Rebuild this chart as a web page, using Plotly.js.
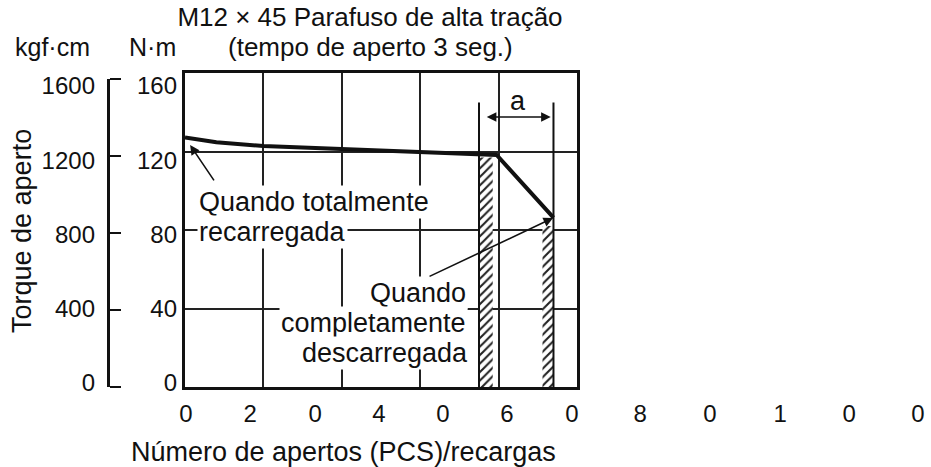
<!DOCTYPE html>
<html>
<head>
<meta charset="utf-8">
<script src="https://cdn.plot.ly/plotly-3.0.1.min.js"></script>
<style>
  html, body { margin: 0; padding: 0; background: #fff; }
  #chart { width: 931px; height: 467px; }
</style>
</head>
<body>
<div id="chart"></div>
<script>
// ── Dados ─────────────────────────────────────────────────
// Curva de torque (N·m) x número de apertos
const apertos  = [0, 8, 20, 40, 60, 68, 79.5, 94];
const torqueNm = [127.2, 124.7, 122.8, 121.1, 119.9, 119.1, 118.2, 86.3];

// Faixas hachuradas (início / fim da janela "a")
const faixaCentro  = [76.75, 92.6];
const faixaLargura = [3.5, 2.8];
const faixaTopo    = [117, 82];

// Linhas verticais que delimitam "a"
const limiteX    = [75, 94];
const limiteTopo = 145;

// Ticks
const ticksNm  = [0, 40, 80, 120, 160];
const ticksKgf = [0, 400, 800, 1200, 1600];
const ticksBaixo    = ['0', '2', '0', '4', '0', '6', '0', '8', '0', '1', '0', '0'];
const ticksBaixoPos = [0.25, 16.6, 33.2, 49.5, 65.8, 82.1, 98.7, 116.1, 133.9, 151.8, 169.4, 187];

// ── Geometria da página ───────────────────────────────────
const W = 931, H = 467;
const M = { l: 10, r: 6, t: 73, b: 80 };
const plotW = W - M.l - M.r;
const plotH = H - M.t - M.b;
const px = (p) => (p - M.l) / plotW;         // pixel -> fração do papel (x)
const py = (p) => (H - M.b - p) / plotH;     // pixel -> fração do papel (y)

const INK  = '#111';
const FONT = 'Liberation Sans, Arial, Helvetica, sans-serif';
const txt  = (size) => ({ family: FONT, size, color: INK });

// ── Traces ────────────────────────────────────────────────
const traceFaixas = {
  type: 'bar',
  x: faixaCentro, y: faixaTopo, width: faixaLargura,
  marker: {
    color: 'white',
    line: { width: 0 },
    pattern: { shape: '/', fgcolor: '#222', bgcolor: 'white', size: 6, solidity: 0.35, fillmode: 'replace' },
  },
  xaxis: 'x', yaxis: 'y', hoverinfo: 'skip', showlegend: false,
};

const limX = [], limY = [];
limiteX.forEach((v) => { limX.push(v, v, null); limY.push(0, limiteTopo, null); });
const traceLimites = {
  type: 'scatter', mode: 'lines', x: limX, y: limY,
  line: { color: INK, width: 2 },
  xaxis: 'x', yaxis: 'y', hoverinfo: 'skip', showlegend: false,
};

const traceTorque = {
  type: 'scatter', mode: 'lines', x: apertos, y: torqueNm,
  line: { color: INK, width: 4 },
  xaxis: 'x', yaxis: 'y', showlegend: false,
};

// traces invisíveis só para amarrar os eixos auxiliares ao x2
const ancora = (ya) => ({
  type: 'scatter', mode: 'markers', x: [0], y: [0], marker: { opacity: 0 },
  xaxis: 'x2', yaxis: ya, hoverinfo: 'skip', showlegend: false,
});

const data = [traceFaixas, traceLimites, traceTorque, ancora('y2'), ancora('y3'), ancora('y4'), ancora('y5')];

// ── Eixos ─────────────────────────────────────────────────
const boxAxis = {
  showgrid: true, gridcolor: '#222', gridwidth: 2,
  showline: true, mirror: true, linewidth: 3, linecolor: INK,
  showticklabels: false, ticks: '', zeroline: false, fixedrange: true,
};

const labelAxis = {
  showgrid: false, showline: false, zeroline: false, ticks: '',
  tickfont: txt(24), fixedrange: true,
};

const layout = {
  width: W, height: H,
  margin: M,
  paper_bgcolor: 'white',
  plot_bgcolor: 'rgba(0,0,0,0)',
  barmode: 'overlay',
  showlegend: false,
  title: {
    text: 'M12 × 45 Parafuso de alta tração',
    font: txt(26),
    x: 370 / W, xanchor: 'center',
    y: 1 - 17 / H, yanchor: 'middle',
  },
  xaxis: { ...boxAxis, domain: [px(185), px(577)], range: [0, 100], tick0: 0, dtick: 20, anchor: 'y' },
  yaxis: { ...boxAxis, domain: [0, 1], range: [0, 160], tick0: 0, dtick: 40, anchor: 'x' },

  xaxis2: {
    ...labelAxis, domain: [px(185), 1], range: [0, (W - M.r - 185) / 3.92],
    tickvals: ticksBaixoPos, ticktext: ticksBaixo, ticklabelstandoff: 10, anchor: 'y5',
  },
  yaxis5: { domain: [0, 1], range: [0, 1], visible: false, anchor: 'x2', fixedrange: true },

  yaxis2: {
    ...labelAxis, anchor: 'free', position: px(185), side: 'left',
    domain: [py(383), py(86)], range: [0, 160], tickvals: ticksNm, ticklabelstandoff: 8,
  },
  yaxis3: {
    ...labelAxis, anchor: 'free', position: px(108), side: 'left',
    domain: [py(383), py(86)], range: [0, 1600], tickvals: ticksKgf, ticklabelstandoff: 13,
  },
  // colchete da escala kgf·cm (linha com pés voltados para a direita)
  yaxis4: {
    anchor: 'free', position: px(108), side: 'right',
    domain: [0, py(79)], range: [0, 1600], tickvals: ticksKgf,
    showticklabels: false, showgrid: false, zeroline: false, fixedrange: true,
    showline: true, linewidth: 3, linecolor: INK,
    ticks: 'outside', ticklen: 11, tickwidth: 2.5, tickcolor: INK,
  },

  annotations: [],
};

// ── Textos ────────────────────────────────────────────────
const rotulo = (text, x, y, opts = {}) => ({
  text, x, y, showarrow: false, font: txt(27), ...opts,
});

layout.annotations.push(
  rotulo('(tempo de aperto 3 seg.)', px(370), py(47), { xref: 'paper', yref: 'paper', xanchor: 'center', yanchor: 'middle', font: txt(26) }),
  rotulo('kgf·cm', px(52), py(47), { xref: 'paper', yref: 'paper', xanchor: 'center', yanchor: 'middle', font: txt(25) }),
  rotulo('N·m', px(152), py(47), { xref: 'paper', yref: 'paper', xanchor: 'center', yanchor: 'middle', font: txt(25) }),
  rotulo('Torque de aperto', px(22), py(231), { xref: 'paper', yref: 'paper', xanchor: 'center', yanchor: 'middle', textangle: -90 }),
  rotulo('Número de apertos (PCS)/recargas', px(343), py(452), { xref: 'paper', yref: 'paper', xanchor: 'center', yanchor: 'middle' }),
);

// rótulos dentro do gráfico (fundo branco interrompe a grade)
const dentro = { xref: 'x', yref: 'y', bgcolor: 'white', borderpad: 1, yanchor: 'middle' };
layout.annotations.push(
  rotulo('Quando totalmente', 3.0, 94.3, { ...dentro, xanchor: 'left' }),
  rotulo('recarregada', 3.0, 79.0, { ...dentro, xanchor: 'left' }),
  rotulo('Quando', 72.2, 47.9, { ...dentro, xanchor: 'right' }),
  rotulo('completamente', 72.2, 32.6, { ...dentro, xanchor: 'right' }),
  rotulo('descarregada', 72.6, 17.3, { ...dentro, xanchor: 'right' }),
  rotulo('a', 85, 145.5, { xref: 'x', yref: 'y', xanchor: 'center', yanchor: 'middle' }),
);

// setas
const seta = (x, y, ax, ay, extra = {}) => ({
  text: '', x, y, ax, ay, xref: 'x', yref: 'y', axref: 'x', ayref: 'y',
  showarrow: true, arrowhead: 2, arrowsize: 1.2, arrowwidth: 1.6, arrowcolor: INK, ...extra,
});
layout.annotations.push(
  seta(1.3, 123.3, 7.65, 104.5),
  seta(93.9, 86.1, 62, 56),
  seta(93.3, 137.6, 76.6, 137.6, { arrowside: 'end+start' }),
);

Plotly.newPlot('chart', data, layout, { staticPlot: true, displayModeBar: false });
</script>
</body>
</html>
